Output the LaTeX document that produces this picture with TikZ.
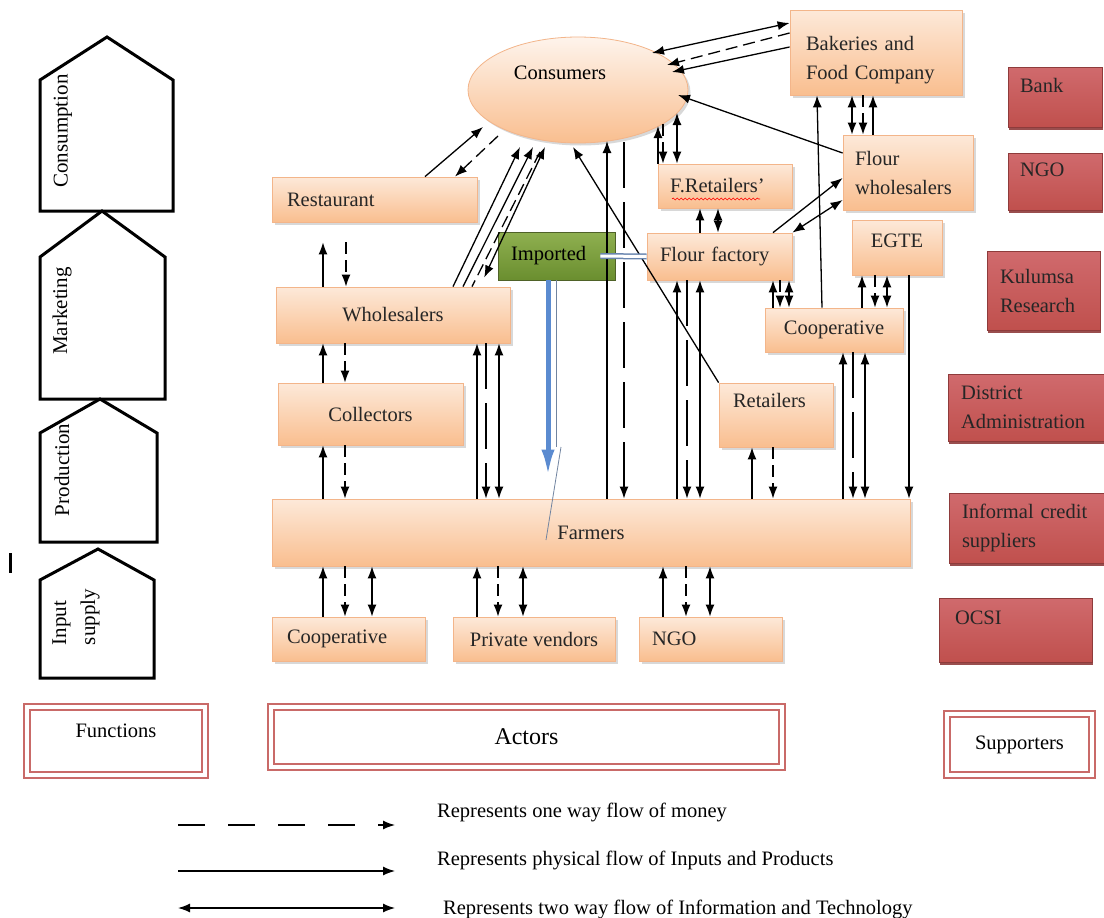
\documentclass[tikz,border=0pt]{standalone}
\usepackage{fontspec}
\setmainfont{Liberation Serif}
\usetikzlibrary{arrows.meta,calc,shapes.geometric,shadows,decorations.pathmorphing}

\definecolor{actTop}{HTML}{FDE9D9}
\definecolor{actBot}{HTML}{F9BE8F}
\definecolor{actEdge}{HTML}{F3B58A}
\definecolor{supTop}{HTML}{D06A6D}
\definecolor{supMid}{HTML}{EBA5A6}
\definecolor{supBot}{HTML}{C0504D}
\definecolor{supEdge}{HTML}{8E3B3B}
\definecolor{impTop}{HTML}{8FB050}
\definecolor{impBot}{HTML}{6A8E2F}
\definecolor{impEdge}{HTML}{4F6228}
\definecolor{flowBlue}{HTML}{5B8BD0}
\definecolor{frameRed}{HTML}{C0504D}

\tikzset{
  stage/.style={draw, line width=3pt, line join=miter},
  actor/.style={draw=actEdge, line width=0.8pt, top color=actTop, bottom color=actBot,
    drop shadow={shadow xshift=2.5pt, shadow yshift=-2.5pt, opacity=.3}, inner sep=0pt, text=black!85},
  supporter/.style={draw=supEdge, line width=0.8pt, top color=supTop, middle color=supMid, bottom color=supBot,
    drop shadow={shadow xshift=1pt, shadow yshift=-3pt, fill=supEdge, opacity=.9}, inner sep=0pt,
    align=left, text=black!85},
  frame/.style={draw=frameRed!85, line width=2pt, double=white, double distance=4pt, inner sep=0pt},
  goods/.style={->, line width=1.3pt},
  money/.style={->, line width=1.3pt, dash pattern=on 12pt off 6pt},
  longdash/.style={dash pattern=on 46pt off 14pt},
  info/.style={<->, line width=1.3pt},
  legmoney/.style={money, dash pattern=on 27pt off 23pt},
  blueflow/.style={draw=flowBlue, line width=5pt, -{Latex[length=28pt,width=13pt]}},
  impflow/.style={draw=flowBlue!60!gray, line width=1.5pt, double=white, double distance=3pt}
}

\begin{document}
\begin{tikzpicture}[x=1pt, y=-1pt, >={Latex[length=12pt,width=9pt]},
  font=\fontsize{20.5}{29}\selectfont]
\useasboundingbox (0,0) rectangle (1104,918);
\fill[white] (0,0) rectangle (1104,918);

% functions
\draw[stage] (40,211) -- (40,80) -- (107,37) -- (173,80) -- (173,211) -- cycle;
\draw[stage] (40,399) -- (40,257) -- (102,211) -- (165,257) -- (165,399) -- cycle;
\draw[stage] (40,542) -- (40,433) -- (100,399) -- (157,433) -- (157,542) -- cycle;
\draw[stage] (40,678) -- (40,580) -- (98,549) -- (154,580) -- (154,678) -- cycle;
\draw[line width=3pt] (10,553) -- (10,573);
\begin{scope}[every node/.style={rotate=90, font=\fontsize{21}{29}\selectfont}]
  \node (tCons) at (63,131) {Consumption};
  \node (tMark) at (62,311) {Marketing};
  \node (tProd) at (62,470) {Production};
  \node[align=left] (tInput) at (76,617) {Input\\supply};
\end{scope}

% actors
\node[actor, ellipse, top color=actTop!50!white, minimum width=220, minimum height=106,
  label={[xshift=-18pt, yshift=17pt]center:Consumers}] (cons) at (578,90) {};
\node[actor, minimum width=205, minimum height=45, text width=175, align=left] (rest) at (374.5,199.5) {Restaurant};
\node[actor, minimum width=234, minimum height=56] (whole) at (393,315) {Wholesalers};
\node[actor, minimum width=185, minimum height=62] (coll) at (370.5,414) {Collectors};
\node[actor, minimum width=638, minimum height=67] (farm) at (591,532.5) {Farmers};
\node[actor, minimum width=153, minimum height=44, text width=123, align=left] (coopB) at (348.5,639) {Cooperative};
\node[actor, minimum width=162, minimum height=44] (priv) at (534,639) {Private vendors};
\node[actor, minimum width=143, minimum height=44, text width=117, align=left] (ngoB) at (710.5,639) {NGO};
\node[draw=impEdge, line width=0.8pt, top color=impTop, bottom color=impBot, inner sep=0pt,
  minimum width=117, minimum height=48, text width=91, align=left] (imp) at (556.5,256) {Imported};
\node[actor, minimum width=145, minimum height=47, text width=119, align=left] (ffac) at (719.5,256.5) {Flour factory};
\node[actor, minimum width=134, minimum height=44, text width=110, align=left] (fret) at (725,186) {F.Retailers'};
\node[actor, minimum width=172, minimum height=85, text width=140, align=left, text depth=19pt] (bake) at (876,52.5) {Bakeries and\\Food Company};
\node[actor, minimum width=130, minimum height=75, text width=106, align=left] (fwhole) at (908,172.5) {Flour\\wholesalers};
\node[actor, minimum width=90, minimum height=55, text depth=14pt] (egte) at (897,247.5) {EGTE};
\node[actor, minimum width=138, minimum height=44] (coopR) at (834,330) {Cooperative};
\node[actor, minimum width=114, minimum height=64, text width=86, align=left, text depth=30pt] (retl) at (776,415) {Retailers};
\draw[red, line width=0.6pt, decorate, decoration={snake, amplitude=1pt, segment length=4pt}]
  ([xshift=-53pt, yshift=-13pt]fret.center) -- ([xshift=35pt, yshift=-13pt]fret.center);

% supporters
\node[supporter, minimum width=94, minimum height=60, text width=70, text depth=24pt] (bank) at (1055,97) {Bank};
\node[supporter, minimum width=94, minimum height=57, text width=70, text depth=24pt] (ngoS) at (1055,181.5) {NGO};
\node[supporter, minimum width=113, minimum height=79, text width=87] (kul) at (1043.5,290.5) {Kulumsa\\Research};
\node[supporter, minimum width=156, minimum height=67, text width=130] (dist) at (1026,407.5) {District\\Administration};
\node[supporter, minimum width=156, minimum height=70, text width=130] (inf) at (1027,528) {Informal credit\\suppliers};
\node[supporter, minimum width=153, minimum height=64, text width=121, text depth=24pt] (ocsi) at (1015.5,630) {OCSI};

\node[frame, minimum width=178, minimum height=68, text depth=20pt] (func) at (116,741) {Functions};
\node[frame, minimum width=511, minimum height=60, font=\fontsize{24}{29}\selectfont] (act) at (526.5,737) {Actors};
\node[frame, minimum width=145, minimum height=61] (supp) at (1019.5,744.5) {Supporters};

% restaurant, wholesalers, collectors
\draw[goods] (rest.north -| 425,0) -- ($(cons)+(-95,37)$);
\draw[money] ($(cons)+(-80,46)$) -- (rest.north -| 455,0);
\draw[goods, shorten >=20pt] (whole.north -| 323,0) -- (rest.south -| 323,0);
\draw[money, shorten <=20pt] (rest.south -| 346,0) -- (whole.north -| 346,0);
\draw[goods] (coll.north -| 323,0) -- (whole.south -| 323,0);
\draw[money] (whole.south -| 345,0) -- (coll.north -| 345,0);
\draw[goods] (farm.north -| 323,0) -- (coll.south -| 323,0);
\draw[money] (coll.south -| 345,0) -- (farm.north -| 345,0);
\draw[goods] (farm.north -| 477,0) -- (whole.south -| 477,0);
\draw[money, longdash] (whole.south -| 486,0) -- (farm.north -| 486,0);
\draw[info] (whole.south -| 499,0) -- (farm.north -| 499,0);
\draw[goods] (whole.north -| 453,0) -- ($(cons)+(-58,57)$);
\draw[goods] (whole.north -| 463,0) -- ($(cons)+(-45,57)$);
\draw[money, -] ($(cons)+(-38,62)$) -- (whole.north -| 472,0);
\draw[info, shorten >=10pt] ($(cons)+(-33,57)$) -- (whole.north -| 480,0);

% consumers, retailers, flour factory
\draw[goods] (farm.north -| 607,0) -- ($(cons)+(29,51)$);
\draw[money, longdash] ($(cons)+(46,52)$) -- (farm.north -| 624,0);
\draw[goods] (retl.north west) -- ($(cons)+(-5,57)$);
\draw[goods] (farm.north -| 677,0) -- (ffac.south -| 677,0);
\draw[money, longdash] (ffac.south -| 687,0) -- (farm.north -| 687,0);
\draw[info] (ffac.south -| 700,0) -- (farm.north -| 700,0);
\draw[goods] (farm.north -| 752,0) -- (retl.south -| 752,0);
\draw[money] (retl.south -| 773,0) -- (farm.north -| 773,0);
\draw[goods] (fret.north -| 658,0) -- ($(cons)+(80,36)$);
\draw[money] ($(cons)+(85,34)$) -- (fret.north -| 663,0);
\draw[info] ($(cons)+(99,23)$) -- (fret.north -| 677,0);
\draw[goods] (ffac.north -| 700,0) -- (fret.south -| 700,0);
\draw[info] (ffac.north -| 718,0) -- (fret.south -| 718,0);

% cooperative, EGTE
\draw[goods] (coopR.north -| 773,0) -- (ffac.south -| 773,0);
\draw[money] (ffac.south -| 780,0) -- (coopR.north -| 780,0);
\draw[info] (ffac.south -| 789,0) -- (coopR.north -| 789,0);
\draw[goods] (coopR.north -| 862,0) -- (egte.south -| 862,0);
\draw[money] (egte.south -| 875,0) -- (coopR.north -| 875,0);
\draw[info] (egte.south -| 887,0) -- (coopR.north -| 887,0);
\draw[goods] (coopR.north -| 822,0) -- (bake.south -| 817,0);
\draw[goods] (farm.north -| 843,0) -- (coopR.south -| 843,0);
\draw[money, longdash] (coopR.south -| 853,0) -- (farm.north -| 853,0);
\draw[info] (coopR.south -| 865,0) -- (farm.north -| 865,0);
\draw[goods] (egte.south -| 909,0) -- (farm.north -| 909,0);

% flour wholesalers, bakeries
\draw[goods] (ffac.north -| 773,0) -- (fwhole.west |- 0,178);
\draw[info] (ffac.north east) -- (fwhole.west |- 0,200);
\draw[goods] (fwhole.west |- 0,153) -- ($(cons)+(100,5)$);
\draw[info] (bake.south -| 852,0) -- (fwhole.north -| 852,0);
\draw[money] (bake.south -| 863,0) -- (fwhole.north -| 863,0);
\draw[goods] (fwhole.north -| 873,0) -- (bake.south -| 873,0);
\draw[info] ($(cons)+(74,-37)$) -- (bake.west |- 0,23);
\draw[money] (bake.west |- 0,33) -- ($(cons)+(89,-25)$);
\draw[goods] (bake.west |- 0,47) -- ($(cons)+(94,-18)$);

% input suppliers
\draw[goods] (coopB.north -| 323,0) -- (farm.south -| 323,0);
\draw[money] (farm.south -| 345,0) -- (coopB.north -| 345,0);
\draw[info] (farm.south -| 372,0) -- (coopB.north -| 372,0);
\draw[goods] (priv.north -| 477,0) -- (farm.south -| 477,0);
\draw[money] (farm.south -| 498,0) -- (priv.north -| 498,0);
\draw[info] (farm.south -| 523,0) -- (priv.north -| 523,0);
\draw[goods] (ngoB.north -| 663,0) -- (farm.south -| 663,0);
\draw[money] (farm.south -| 686,0) -- (ngoB.north -| 686,0);
\draw[info] (farm.south -| 710,0) -- (ngoB.north -| 710,0);

% imported
\draw[blueflow, shorten >=21pt] (imp.south -| 548,0) -- (farm.north -| 548,0);
\draw[gray!60!flowBlue, line width=0.8pt] (imp.south -| 556,0) -- (556,447);
\draw[gray!60!flowBlue, line width=0.8pt] (561,447) -- (546,540);
\draw[impflow] ([xshift=-15pt]imp.east) -- (ffac.west);

% legend
\foreach \ly/\ty/\tx/\sty/\txt in {825/812/437/legmoney/Represents one way flow of money,
  871/860/437/goods/Represents physical flow of Inputs and Products,
  908/909/443/info/Represents two way flow of Information and Technology}{
  \coordinate (ls\ly) at (178,\ly);
  \coordinate (le\ly) at (395,\ly);
  \draw[style=\sty] (ls\ly) -- (le\ly);
  \node[anchor=west, inner sep=0pt] (lt\ly) at (\tx,\ty) {\txt};
}
\end{tikzpicture}
\end{document}
